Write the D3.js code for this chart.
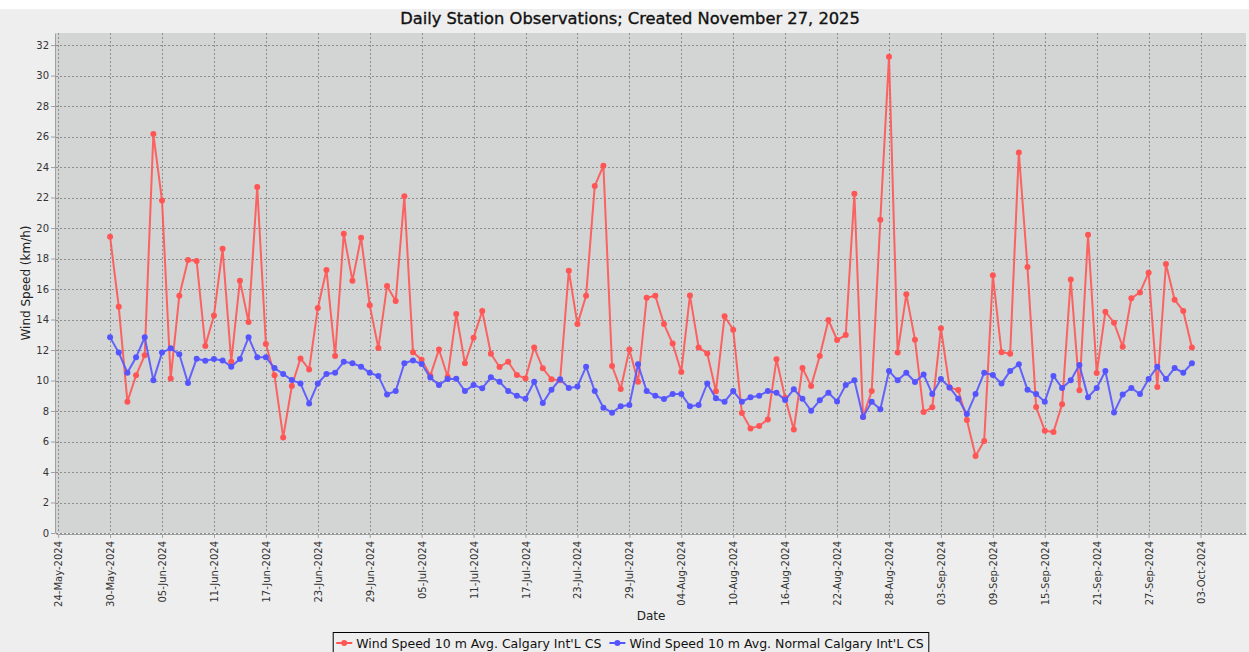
<!DOCTYPE html>
<html>
<head>
<meta charset="utf-8">
<script src="https://cdn.jsdelivr.net/npm/d3@7"></script>
<style>
  body { margin: 0; background: #ffffff; }
  text { font-family: "DejaVu Sans", sans-serif; }
</style>
</head>
<body>
<div id="chart"></div>
<script>
// first observation day, one value per day after that
const startDay = new Date(2024, 4, 30);

const windSpeed = [
  19.43, 14.84,
  8.61, 10.34, 11.65, 26.16, 21.81, 10.14, 15.56, 17.9, 17.84, 12.26,
  14.27, 18.64, 11.23, 16.55, 13.84, 22.69, 12.4, 10.34, 6.27, 9.64,
  11.45, 10.73, 14.75, 17.25, 11.61, 19.63, 16.55, 19.37, 14.93, 12.13,
  16.2, 15.21, 22.08, 11.85, 11.37, 10.32, 12.04, 10.25, 14.36, 11.13,
  12.81, 14.56, 11.76, 10.89, 11.23, 10.36, 10.14, 12.17, 10.8, 10.08,
  10.01, 17.2, 13.7, 15.56, 22.75, 24.09, 10.95, 9.44, 12.04, 9.92, 15.43,
  15.56, 13.7, 12.42, 10.56, 15.58, 12.17, 11.78, 9.29, 14.21, 13.33,
  7.87, 6.86, 7.02, 7.45, 11.39, 8.87, 6.78, 10.82, 9.64, 11.61,
  13.97, 12.66, 12.98, 22.25, 7.61, 9.31, 20.55, 31.23, 11.83, 15.65, 12.68,
  7.93, 8.24, 13.42, 9.55, 9.38, 7.41, 5.05, 6.03, 16.9, 11.85,
  11.76, 24.96, 17.44, 8.26, 6.71, 6.62, 8.44, 16.63, 9.36, 19.56,
  10.49, 14.51, 13.79, 12.22, 15.39, 15.78, 17.07, 9.57, 17.64, 15.3,
  14.56, 12.17
];

const windNormal = [
  12.83, 11.83,
  10.51, 11.52, 12.83, 10.01, 11.83, 12.11, 11.72, 9.84, 11.43, 11.3,
  11.41, 11.32, 10.91, 11.41, 12.83, 11.52, 11.52, 10.82, 10.43, 10.03,
  9.81, 8.5, 9.81, 10.43, 10.51, 11.23, 11.13, 10.91, 10.51, 10.3,
  9.09, 9.31, 11.13, 11.32, 11.08, 10.19, 9.7, 10.1, 10.12, 9.31,
  9.7, 9.49, 10.21, 9.92, 9.31, 9.0, 8.81, 9.92, 8.52, 9.4,
  10.08, 9.51, 9.6, 10.91, 9.31, 8.22, 7.89, 8.31, 8.39, 11.06, 9.31,
  9.0, 8.79, 9.11, 9.11, 8.31, 8.39, 9.81, 8.83, 8.61, 9.31,
  8.61, 8.9, 9.0, 9.31, 9.2, 8.72, 9.42, 8.81, 8.02, 8.7,
  9.2, 8.63, 9.7, 10.01, 7.61, 8.61, 8.11, 10.62, 10.01, 10.51, 9.9,
  10.4, 9.11, 10.1, 9.55, 8.81, 7.8, 9.11, 10.51, 10.36, 9.81,
  10.62, 11.06, 9.4, 9.11, 8.61, 10.3, 9.51, 10.01, 11.02, 8.9,
  9.51, 10.62, 7.91, 9.09, 9.51, 9.11, 10.1, 10.91, 10.1, 10.82,
  10.51, 11.13
];

const seriesNames = [
  "Wind Speed 10 m Avg. Calgary Int'L CS",
  "Wind Speed 10 m Avg. Normal Calgary Int'L CS"
];
const seriesColors = ["#ff5555", "#5555ff"];

const yTicks = d3.range(0, 33, 2);
const firstTick = new Date(2024, 4, 24);
const xTicks = d3.range(0, 133, 6).map(d => d3.timeDay.offset(firstTick, d));

const days = windSpeed.map((v, i) => d3.timeDay.offset(startDay, i));

const width = 1249, height = 652;
const margin = { top: 33, right: 3, bottom: 119, left: 56 };

const svg = d3.select("#chart").append("svg")
  .attr("width", width)
  .attr("height", height);

// chart background (white strip at top, light grey body)
svg.append("rect").attr("width", width).attr("height", height).attr("fill", "#ffffff");
svg.append("rect").attr("y", 9).attr("width", width).attr("height", height - 9).attr("fill", "#eeeeee");

// domain with 5% margins like the original
const t0 = days[0].getTime(), t1 = days[days.length - 1].getTime();
const pad = (t1 - t0) * 0.05;
const x = d3.scaleTime()
  .domain([new Date(t0 - pad), new Date(t1 + pad)])
  .range([margin.left, width - margin.right]);

const yMax = d3.max(windSpeed.concat(windNormal)) * 1.05;
const y = d3.scaleLinear()
  .domain([0, yMax])
  .range([height - margin.bottom, margin.top]);

// plot area
svg.append("rect")
  .attr("x", margin.left).attr("y", margin.top)
  .attr("width", width - margin.left - margin.right)
  .attr("height", height - margin.top - margin.bottom)
  .attr("fill", "#d3d5d4");

// grid
const grid = svg.append("g").attr("stroke", "#8e8e8e").attr("stroke-width", 1)
  .attr("stroke-dasharray", "2,2");
grid.selectAll(".gy").data(yTicks).enter().append("line")
  .attr("x1", margin.left).attr("x2", width - margin.right)
  .attr("y1", d => Math.round(y(d)) + 0.5).attr("y2", d => Math.round(y(d)) + 0.5);
grid.selectAll(".gx").data(xTicks).enter().append("line")
  .attr("y1", margin.top).attr("y2", height - margin.bottom)
  .attr("x1", d => Math.round(x(d)) + 0.5).attr("x2", d => Math.round(x(d)) + 0.5);

// axes
const xAxis = svg.append("g")
  .attr("transform", `translate(0,${height - margin.bottom + 1})`)
  .call(d3.axisBottom(x).tickValues(xTicks).tickFormat(d3.timeFormat("%d-%b-%Y"))
    .tickSize(4).tickSizeOuter(0));
xAxis.selectAll("text")
  .attr("transform", "rotate(-90)")
  .attr("text-anchor", "end")
  .attr("x", -7).attr("y", 0).attr("dy", "0.35em")
  .attr("font-size", 10).attr("fill", "#333");

const yAxis = svg.append("g")
  .attr("transform", `translate(${margin.left - 1},0)`)
  .call(d3.axisLeft(y).tickValues(yTicks).tickSize(4).tickSizeOuter(0));
yAxis.selectAll("text").attr("font-size", 10).attr("fill", "#333").attr("x", -6);

svg.selectAll(".domain").attr("stroke", "#a0a0a0");
svg.selectAll(".tick line").attr("stroke", "#a0a0a0");
svg.selectAll(".tick text").attr("font-family", "DejaVu Sans, sans-serif");

// series
const series = [windSpeed, windNormal];
series.forEach((vals, s) => {
  const pts = vals.map((v, i) => ({ date: days[i], v }));
  svg.append("path")
    .datum(pts)
    .attr("fill", "none")
    .attr("stroke", seriesColors[s])
    .attr("stroke-width", 2)
    .attr("stroke-opacity", 0.9)
    .attr("d", d3.line().x(d => x(d.date)).y(d => y(d.v)));
  svg.append("g").selectAll("circle")
    .data(pts).enter().append("circle")
    .attr("cx", d => x(d.date)).attr("cy", d => y(d.v))
    .attr("r", 3)
    .attr("fill", seriesColors[s]);
});

// titles
svg.append("text")
  .attr("x", 630).attr("y", 24)
  .attr("text-anchor", "middle")
  .attr("font-size", 16.3)
  .attr("fill", "#111")
  .attr("stroke", "#111").attr("stroke-width", 0.35)
  .text("Daily Station Observations; Created November 27, 2025");

svg.append("text")
  .attr("x", (margin.left + width - margin.right) / 2).attr("y", 620)
  .attr("text-anchor", "middle").attr("font-size", 12).attr("fill", "#222")
  .text("Date");

svg.append("text")
  .attr("transform", `translate(30,${(margin.top + height - margin.bottom) / 2}) rotate(-90)`)
  .attr("text-anchor", "middle").attr("font-size", 12).attr("fill", "#222")
  .text("Wind Speed (km/h)");

// legend
const legend = svg.append("g");
const box = legend.append("rect")
  .attr("y", 632.5).attr("height", 30)
  .attr("fill", "#eeeeee").attr("stroke", "#000");
let lx = 0;
const items = legend.append("g");
seriesNames.forEach((name, i) => {
  const g = items.append("g").attr("transform", `translate(${lx},0)`);
  g.append("line").attr("x1", 3).attr("x2", 19).attr("y1", 643).attr("y2", 643)
    .attr("stroke", seriesColors[i]).attr("stroke-width", 2);
  g.append("circle").attr("cx", 11).attr("cy", 643).attr("r", 3).attr("fill", seriesColors[i]);
  const t = g.append("text").attr("x", 23).attr("y", 647.5)
    .attr("font-size", 12.5).attr("fill", "#111").text(name);
  lx += 23 + t.node().getComputedTextLength() + 5;
});
const legendW = lx;
const legendX = 631 - legendW / 2;
box.attr("x", legendX).attr("width", legendW);
items.attr("transform", `translate(${legendX},0)`);
</script>
</body>
</html>
